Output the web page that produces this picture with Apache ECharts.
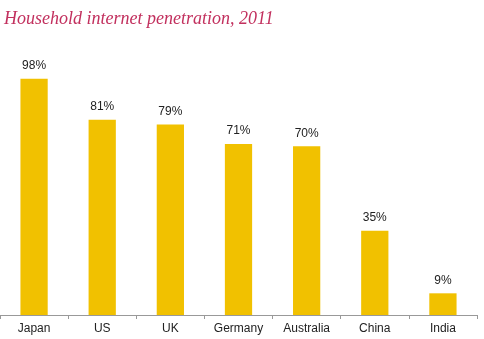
<!DOCTYPE html>
<html><head><meta charset="utf-8">
<script src="https://cdn.jsdelivr.net/npm/echarts@6/dist/echarts.min.js"></script>
<style>html,body{margin:0;padding:0;background:#fff}#c{width:484px;height:339px}</style>
</head><body><div id="c"></div>
<script>
const categories = ["Japan","US","UK","Germany","Australia","China","India"];
const values = [98, 81, 79, 71, 70, 35, 9];
const titleText = "Household internet penetration, 2011";

const chart = echarts.init(document.getElementById('c'), null, {renderer:'canvas'});
chart.setOption({
  animation:false,
  title:{text:titleText,left:-1,top:5,textStyle:{fontFamily:'Liberation Serif',fontStyle:'italic',fontWeight:'normal',fontSize:18,color:'#c2305e'}},
  grid:{left:0,right:7,top:74,bottom:24},
  xAxis:{type:'category',data:categories,
    axisLine:{lineStyle:{color:'#999',width:1}},
    axisTick:{show:true,length:4,lineStyle:{color:'#999'}},
    axisLabel:{color:'#222',fontFamily:'Liberation Sans',fontSize:12,margin:8}},
  yAxis:{type:'value',min:0,max:100,show:false,splitLine:{show:false}},
  series:[{type:'bar',data:values,barWidth:'40%',
    itemStyle:{color:'#f1c100'},
    label:{show:true,position:'top',distance:7,formatter:'{c}%',color:'#222',fontFamily:'Liberation Sans',fontSize:12}}]
});
</script></body></html>
